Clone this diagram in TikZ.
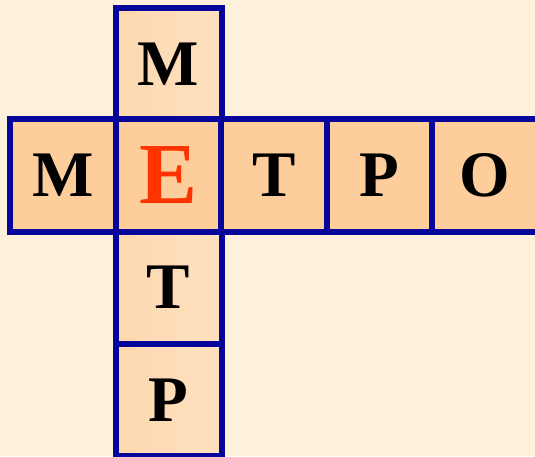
\documentclass[tikz,border=0pt]{standalone}
\usepackage{fontspec}
\setmainfont{Liberation Serif}
\definecolor{bg}{HTML}{FDF1DC}
\definecolor{edge}{HTML}{06069A}
\definecolor{rowfill}{HTML}{FDCD9C}
\definecolor{colfillA}{HTML}{FDD8B0}
\definecolor{colfillB}{HTML}{FEE0BF}
\definecolor{redletter}{HTML}{FF3300}
\tikzset{
  cell/.style={draw=edge, line width=6pt, inner sep=0pt, minimum width=106pt, minimum height=112pt,
    font=\fontsize{65}{65}\selectfont\bfseries, text=black},
  rowcell/.style={cell, fill=rowfill},
  colcell/.style={cell, left color=colfillA, right color=colfillB},
  bigletter/.style={font=\fontsize{87}{87}\selectfont\bfseries, text=redletter}
}
\begin{document}
\begin{tikzpicture}[x=1pt,y=1pt]
\useasboundingbox (0,0) rectangle (535,456);
\clip (0,0) rectangle (535,456);
\fill[bg] (0,0) rectangle (535,456);
% vertical word cells (drawn first, row on top)
\node[colcell] (v1) at (168.5,392) {М};
\node[colcell] (v3) at (168.5,168.5) {Т};
\node[colcell] (v4) at (168.5,56) {Р};
% horizontal word cells
\node[rowcell] (h1) at (63,280.5) {М};
\node[rowcell, bigletter] (h2) at (168.5,280.5) {Е};
\node[rowcell] (h3) at (274,280.5) {Т};
\node[rowcell] (h4) at (379.5,280.5) {Р};
\node[rowcell] (h5) at (485,280.5) {О};
\end{tikzpicture}
\end{document}
